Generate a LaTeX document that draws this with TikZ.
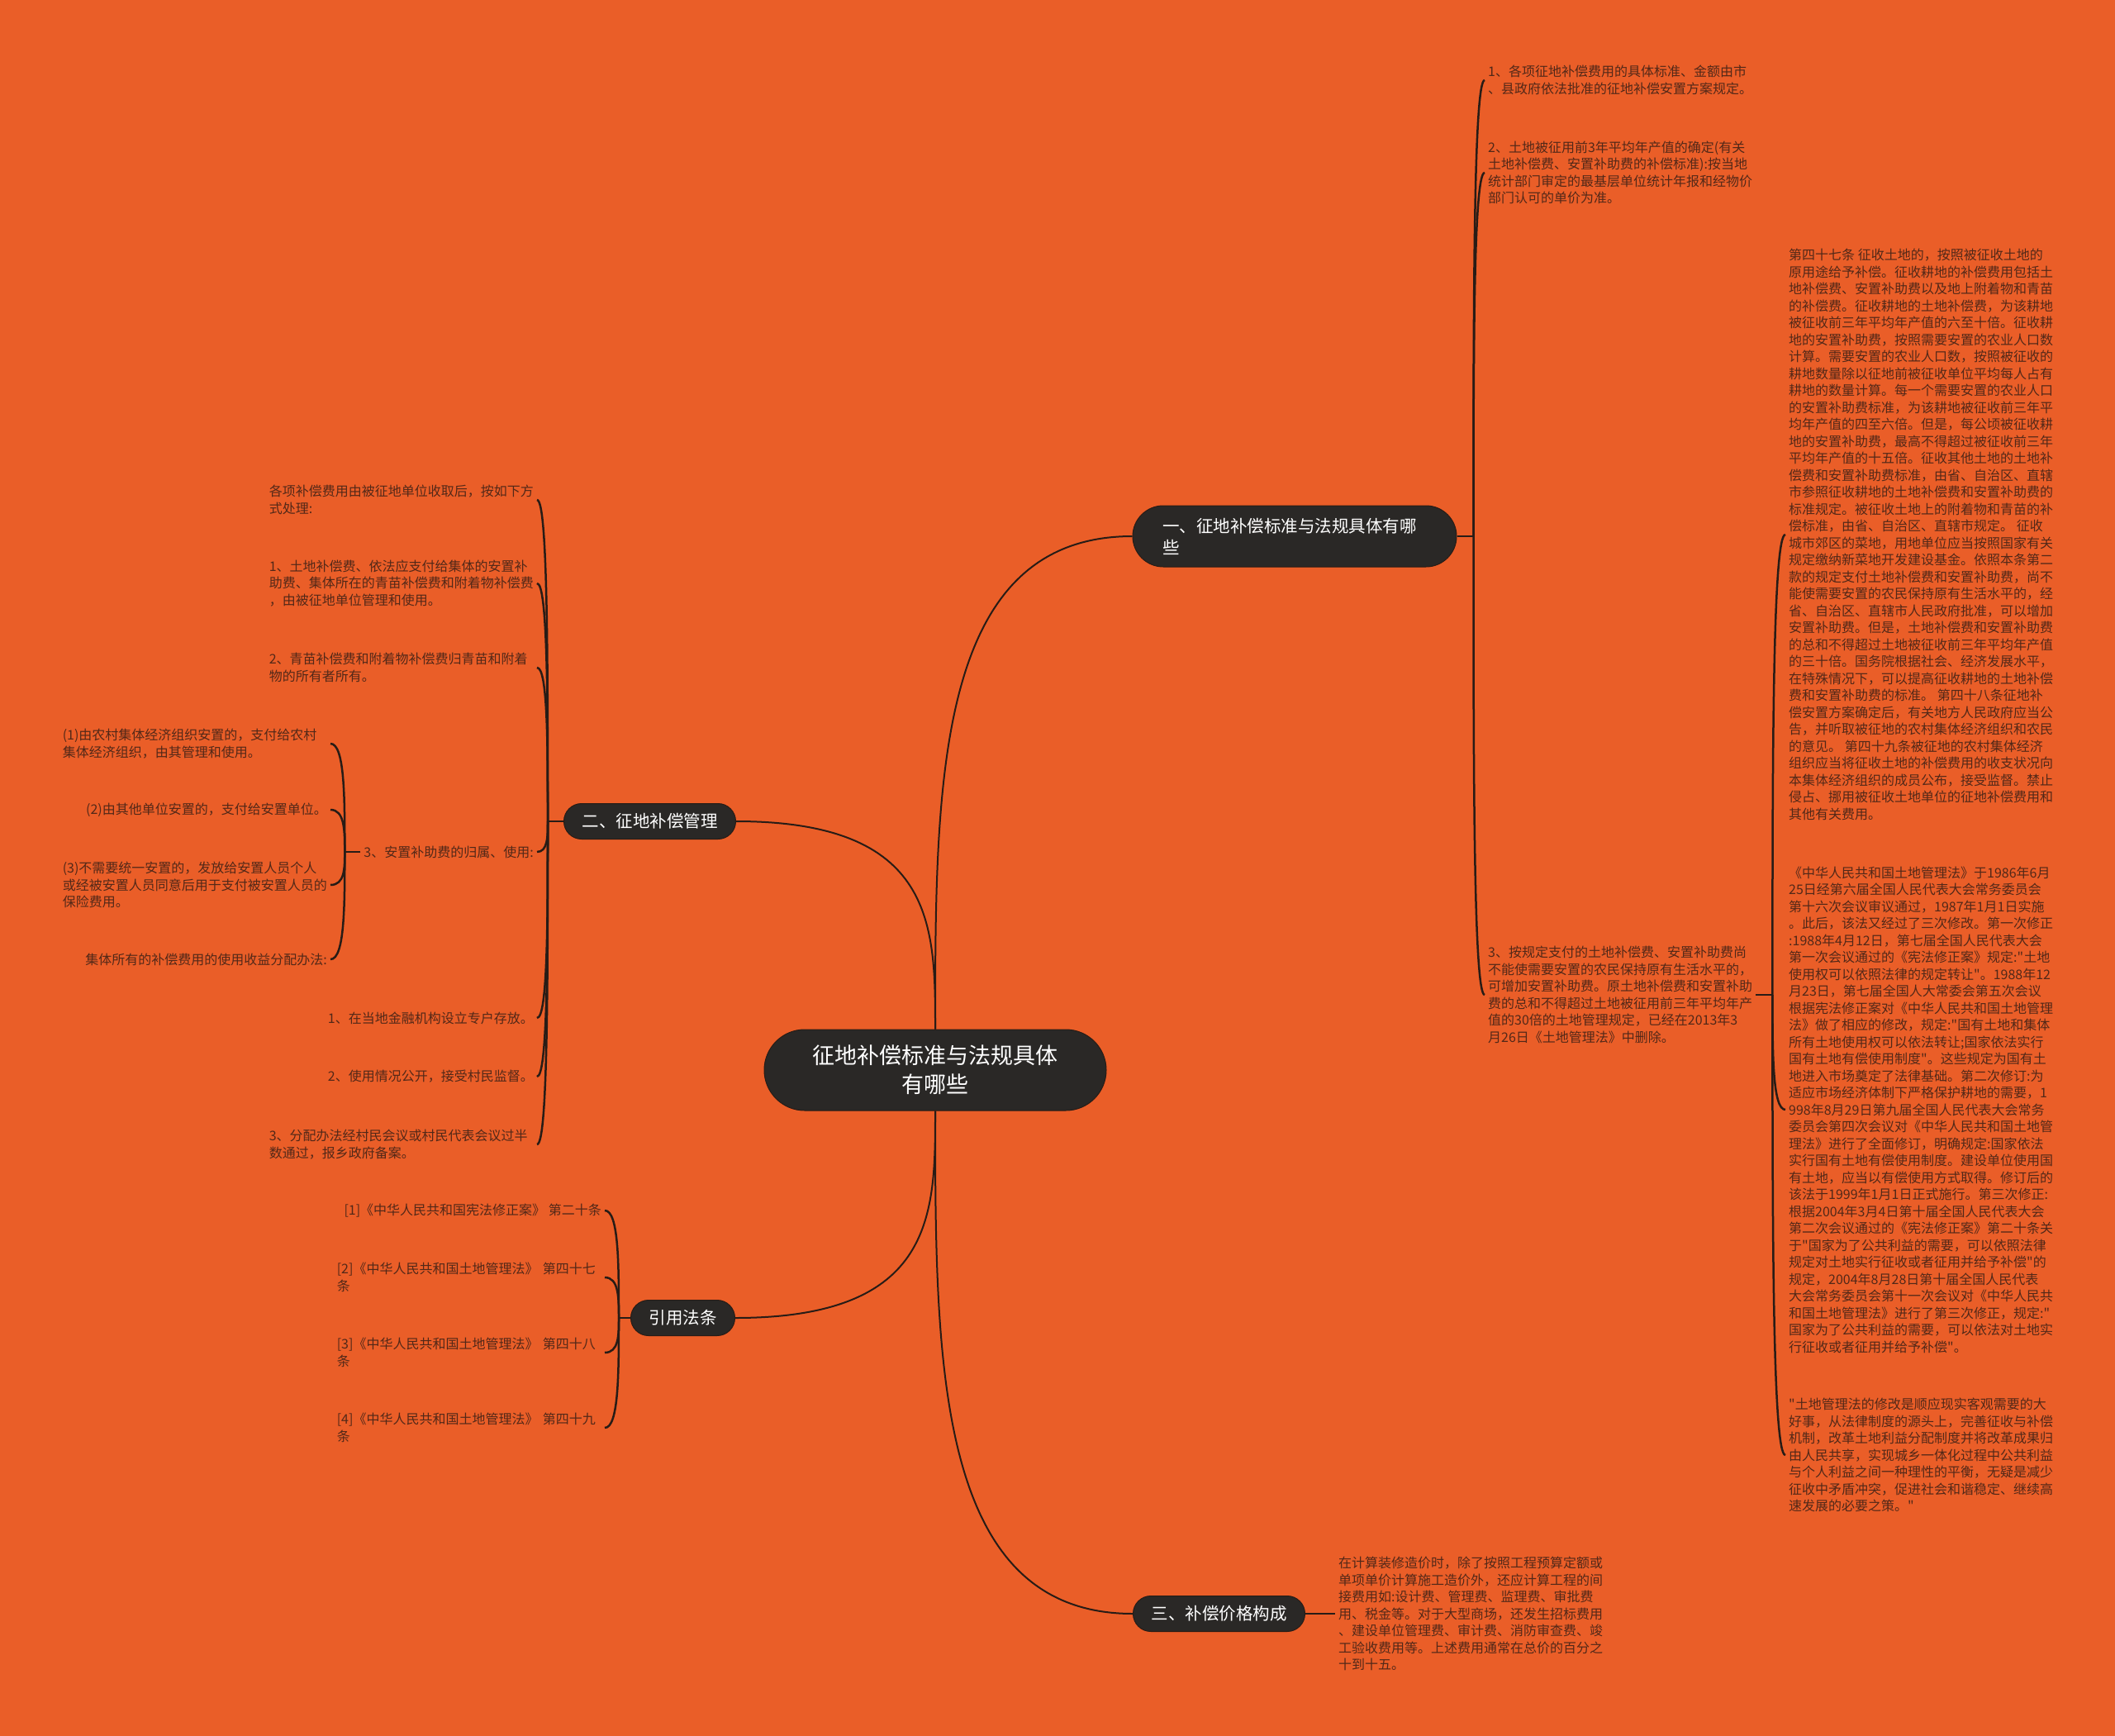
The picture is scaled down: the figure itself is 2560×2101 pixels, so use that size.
\documentclass[tikz,border=0pt]{standalone}
\usepackage{fontspec}
\setmainfont[Ligatures=TeXOff]{Noto Sans CJK SC}
\usetikzlibrary{calc}

\definecolor{bgorange}{RGB}{234,94,40}
\definecolor{inkbrown}{RGB}{82,40,24}
\definecolor{twigc}{RGB}{40,28,22}
\definecolor{pillc}{RGB}{42,40,38}

\tikzstyle{hub} = [draw=twigc, fill=pillc, text=white, line width=1pt, rounded corners=49pt, minimum width=414pt, minimum height=98pt, align=center, font=\fontsize{27}{35}\selectfont]
\tikzstyle{topic} = [draw=twigc, fill=pillc, text=white, line width=1pt, rounded corners=21.5pt, minimum height=43pt, inner xsep=22pt, font=\fontsize{20.5}{26}\selectfont]
\tikzstyle{leaf} = [text=inkbrown, align=left, inner sep=4pt, font=\fontsize{16}{20.5}\selectfont]
\tikzstyle{wide} = [text width=320pt]
\tikzstyle{bough} = [draw=twigc, line width=2pt, to path={.. controls ($(\tikztostart)!.5!(\tikztostart|-\tikztotarget)$) and (\tikztostart|-\tikztotarget) .. (\tikztotarget)}]
\tikzstyle{twig} = [bough, line width=2.5pt]

\begin{document}
\begin{tikzpicture}[x=1pt, y=-1pt]
\useasboundingbox (0,0) rectangle (2560,2101);
\fill[bgorange] (0,0) rectangle (2560,2101);

\node[hub] (root) at (1132,1295) {征地补偿标准与法规具体\\有哪些};

\node[topic, text width=320pt, align=left, inner xsep=36pt, minimum height=74pt, rounded corners=37pt] (b1) at (1567,649) {一、征地补偿标准与法规具体有哪\\些};
\node[topic] (b2) at (786.5,994) {二、征地补偿管理};
\node[topic] (b4) at (826.5,1595) {引用法条};
\node[topic] (b3) at (1475.5,1953) {三、补偿价格构成};

\node[leaf, anchor=west] (r1) at (1797,97) {1、各项征地补偿费用的具体标准、金额由市\\、县政府依法批准的征地补偿安置方案规定。};
\node[leaf, anchor=west] (r2) at (1797,209) {2、土地被征用前3年平均年产值的确定(有关\\土地补偿费、安置补助费的补偿标准):按当地\\统计部门审定的最基层单位统计年报和经物价\\部门认可的单价为准。};
\node[leaf, anchor=west] (r3) at (1797,1204) {3、按规定支付的土地补偿费、安置补助费尚\\不能使需要安置的农民保持原有生活水平的，\\可增加安置补助费。原土地补偿费和安置补助\\费的总和不得超过土地被征用前三年平均年产\\值的30倍的土地管理规定，已经在2013年3\\月26日《土地管理法》中删除。};

\node[leaf, anchor=west] (ra) at (2161,647) {第四十七条 征收土地的，按照被征收土地的\\原用途给予补偿。征收耕地的补偿费用包括土\\地补偿费、安置补助费以及地上附着物和青苗\\的补偿费。征收耕地的土地补偿费，为该耕地\\被征收前三年平均年产值的六至十倍。征收耕\\地的安置补助费，按照需要安置的农业人口数\\计算。需要安置的农业人口数，按照被征收的\\耕地数量除以征地前被征收单位平均每人占有\\耕地的数量计算。每一个需要安置的农业人口\\的安置补助费标准，为该耕地被征收前三年平\\均年产值的四至六倍。但是，每公顷被征收耕\\地的安置补助费，最高不得超过被征收前三年\\平均年产值的十五倍。征收其他土地的土地补\\偿费和安置补助费标准，由省、自治区、直辖\\市参照征收耕地的土地补偿费和安置补助费的\\标准规定。被征收土地上的附着物和青苗的补\\偿标准，由省、自治区、直辖市规定。 征收\\城市郊区的菜地，用地单位应当按照国家有关\\规定缴纳新菜地开发建设基金。依照本条第二\\款的规定支付土地补偿费和安置补助费，尚不\\能使需要安置的农民保持原有生活水平的，经\\省、自治区、直辖市人民政府批准，可以增加\\安置补助费。但是，土地补偿费和安置补助费\\的总和不得超过土地被征收前三年平均年产值\\的三十倍。国务院根据社会、经济发展水平，\\在特殊情况下，可以提高征收耕地的土地补偿\\费和安置补助费的标准。 第四十八条征地补\\偿安置方案确定后，有关地方人民政府应当公\\告，并听取被征地的农村集体经济组织和农民\\的意见。 第四十九条被征地的农村集体经济\\组织应当将征收土地的补偿费用的收支状况向\\本集体经济组织的成员公布，接受监督。禁止\\侵占、挪用被征收土地单位的征地补偿费用和\\其他有关费用。};
\node[leaf, anchor=west] (rb) at (2161,1343) {《中华人民共和国土地管理法》于1986年6月\\25日经第六届全国人民代表大会常务委员会\\第十六次会议审议通过，1987年1月1日实施\\。此后，该法又经过了三次修改。第一次修正\\:1988年4月12日，第七届全国人民代表大会\\第一次会议通过的《宪法修正案》规定:"土地\\使用权可以依照法律的规定转让"。1988年12\\月23日，第七届全国人大常委会第五次会议\\根据宪法修正案对《中华人民共和国土地管理\\法》做了相应的修改，规定:"国有土地和集体\\所有土地使用权可以依法转让;国家依法实行\\国有土地有偿使用制度"。这些规定为国有土\\地进入市场奠定了法律基础。第二次修订:为\\适应市场经济体制下严格保护耕地的需要，1\\998年8月29日第九届全国人民代表大会常务\\委员会第四次会议对《中华人民共和国土地管\\理法》进行了全面修订，明确规定:国家依法\\实行国有土地有偿使用制度。建设单位使用国\\有土地，应当以有偿使用方式取得。修订后的\\该法于1999年1月1日正式施行。第三次修正:\\根据2004年3月4日第十届全国人民代表大会\\第二次会议通过的《宪法修正案》第二十条关\\于"国家为了公共利益的需要，可以依照法律\\规定对土地实行征收或者征用并给予补偿"的\\规定，2004年8月28日第十届全国人民代表\\大会常务委员会第十一次会议对《中华人民共\\和国土地管理法》进行了第三次修正，规定:"\\国家为了公共利益的需要，可以依法对土地实\\行征收或者征用并给予补偿"。};
\node[leaf, anchor=west] (rc) at (2161,1761) {"土地管理法的修改是顺应现实客观需要的大\\好事，从法律制度的源头上，完善征收与补偿\\机制，改革土地利益分配制度并将改革成果归\\由人民共享，实现城乡一体化过程中公共利益\\与个人利益之间一种理性的平衡，无疑是减少\\征收中矛盾冲突，促进社会和谐稳定、继续高\\速发展的必要之策。"};

\node[leaf, wide, anchor=east] (l1) at (650,605) {各项补偿费用由被征地单位收取后，按如下方\\式处理:};
\node[leaf, wide, anchor=east] (l2) at (650,706) {1、土地补偿费、依法应支付给集体的安置补\\助费、集体所在的青苗补偿费和附着物补偿费\\，由被征地单位管理和使用。};
\node[leaf, wide, anchor=east] (l3) at (650,808) {2、青苗补偿费和附着物补偿费归青苗和附着\\物的所有者所有。};
\node[leaf, anchor=east] (l4) at (650,1031) {3、安置补助费的归属、使用:};
\node[leaf, anchor=east] (l5) at (650,1232) {1、在当地金融机构设立专户存放。};
\node[leaf, anchor=east] (l6) at (650,1303) {2、使用情况公开，接受村民监督。};
\node[leaf, wide, anchor=east] (l7) at (650,1385) {3、分配办法经村民会议或村民代表会议过半\\数通过，报乡政府备案。};

\node[leaf, wide, anchor=east] (s1) at (400,900) {(1)由农村集体经济组织安置的，支付给农村\\集体经济组织，由其管理和使用。};
\node[leaf, anchor=east] (s2) at (400,980) {(2)由其他单位安置的，支付给安置单位。};
\node[leaf, wide, anchor=east] (s3) at (400,1071) {(3)不需要统一安置的，发放给安置人员个人\\或经被安置人员同意后用于支付被安置人员的\\保险费用。};
\node[leaf, anchor=east] (s4) at (400,1161) {集体所有的补偿费用的使用收益分配办法:};

\node[leaf, anchor=east] (q1) at (732,1465) {[1]《中华人民共和国宪法修正案》 第二十条};
\node[leaf, wide, anchor=east] (q2) at (732,1546) {[2]《中华人民共和国土地管理法》 第四十七\\条};
\node[leaf, wide, anchor=east] (q3) at (732,1637) {[3]《中华人民共和国土地管理法》 第四十八\\条};
\node[leaf, wide, anchor=east] (q4) at (732,1728) {[4]《中华人民共和国土地管理法》 第四十九\\条};

\node[leaf, anchor=west] (c3) at (1616,1953) {在计算装修造价时，除了按照工程预算定额或\\单项单价计算施工造价外，还应计算工程的间\\接费用如:设计费、管理费、监理费、审批费\\用、税金等。对于大型商场，还发生招标费用\\、建设单位管理费、审计费、消防审查费、竣\\工验收费用等。上述费用通常在总价的百分之\\十到十五。};

\draw[bough] (root.north) to (b1.west);
\draw[bough] (root.north) to (b2.east);
\draw[bough] (root.south) to (b4.east);
\draw[bough] (root.south) to (b3.west);

\draw[twig] (b1.east) -- ++(20,0) coordinate (b1s);
\foreach \c in {r1,r2,r3} \draw[twig] (b1s) to (\c.west);
\draw[twig] (r3.east) -- ++(20,0) coordinate (r3s);
\foreach \c in {ra,rb,rc} \draw[twig] (r3s) to (\c.west);

\draw[twig] (b2.west) -- ++(-19,0) coordinate (b2s);
\foreach \c in {l1,l2,l3,l4,l5,l6,l7} \draw[twig] (b2s) to (\c.east);
\draw[twig] (l4.west) -- ++(-19,0) coordinate (l4s);
\foreach \c in {s1,s2,s3,s4} \draw[twig] (l4s) to (\c.east);

\draw[twig] (b4.west) -- ++(-14,0) coordinate (b4s);
\foreach \c in {q1,q2,q3,q4} \draw[twig] (b4s) to (\c.east);

\draw[twig] (b3.east) -- (c3.west);
\end{tikzpicture}
\end{document}
